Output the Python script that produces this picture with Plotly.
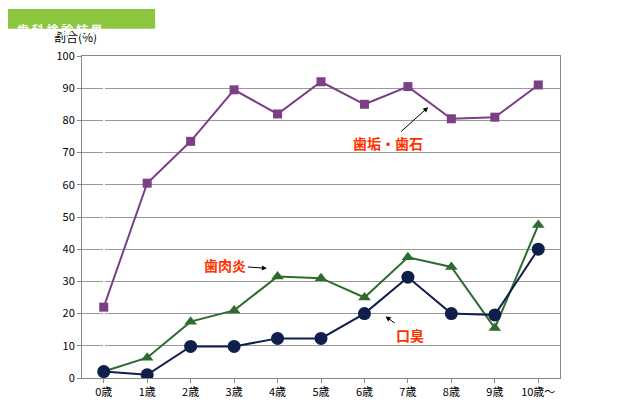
import plotly.graph_objects as go

ages = ["0歳", "1歳", "2歳", "3歳", "4歳", "5歳", "6歳", "7歳", "8歳", "9歳", "10歳～"]
plaque = [22, 60.5, 73.5, 89.5, 82, 92, 85, 90.5, 80.5, 81, 91]
gingivitis = [2, 6.3, 17.5, 21, 31.5, 31, 25, 37.5, 34.5, 15.5, 47.5]
halitosis = [2, 1, 9.8, 9.8, 12.3, 12.3, 20, 31.3, 20, 19.6, 40]

xi = list(range(len(ages)))

fig = go.Figure()
fig.add_trace(go.Scatter(x=xi, y=plaque, mode="lines+markers",
                         line=dict(color="#7b3f86", width=2),
                         marker=dict(symbol="square", size=9, color="#7b3f86")))
fig.add_trace(go.Scatter(x=xi, y=gingivitis, mode="lines+markers",
                         line=dict(color="#2e6b2e", width=2),
                         marker=dict(symbol="triangle-up", size=11, color="#2e6b2e")))
fig.add_trace(go.Scatter(x=xi, y=halitosis, mode="lines+markers",
                         line=dict(color="#0f1e4a", width=2),
                         marker=dict(symbol="circle", size=13, color="#0f1e4a")))

font = "Noto Sans CJK JP"
lab = dict(size=14, color="#ff3300", family=font)
for text, tx, ty, hx, hy in [("<b>歯垢・歯石</b>", 6.55, 73, 7.5, 84.5),
                              ("<b>歯肉炎</b>", 2.8, 35, 3.8, 34),
                              ("<b>口臭</b>", 7.05, 13.5, 6.45, 19.5)]:
    fig.add_annotation(x=hx, y=hy, ax=tx, ay=ty, axref="x", ayref="y",
                       text=text, font=lab, showarrow=True, arrowhead=2,
                       arrowsize=1, arrowwidth=1, arrowcolor="black", standoff=2)

fig.add_annotation(xref="paper", yref="paper", x=-0.063, y=1.027, xanchor="left",
                   yanchor="bottom", text="割合(%)", showarrow=False,
                   font=dict(size=12, color="black", family=font))
fig.add_shape(type="rect", xref="paper", yref="paper", x0=-0.155, x1=0.153,
              y0=1.085, y1=1.146, fillcolor="#8cc63f", line_width=0)
fig.add_annotation(xref="paper", yref="paper", x=-0.14, y=1.116, xanchor="left",
                   text="<b>歯 科 検 診 結 果</b>", showarrow=False,
                   font=dict(size=12, color="white", family=font))

fig.update_layout(
    width=624, height=403, showlegend=False,
    margin=dict(l=74, r=72, t=48, b=27),
    paper_bgcolor="white", plot_bgcolor="white",
    font=dict(family=font, size=11, color="black"),
    xaxis=dict(tickmode="array", tickvals=xi, ticktext=ages, range=[-0.5, 10.5],
               showgrid=False, showline=True, linecolor="#888", mirror=True,
               ticks="outside", ticklen=4, tickcolor="#888"),
    yaxis=dict(range=[0, 100], dtick=10, showgrid=True, gridcolor="#999",
               showline=True, linecolor="#888", mirror=True, ticks="outside",
               ticklen=4, tickcolor="#888", zeroline=False),
)

fig.write_html("out.html")
